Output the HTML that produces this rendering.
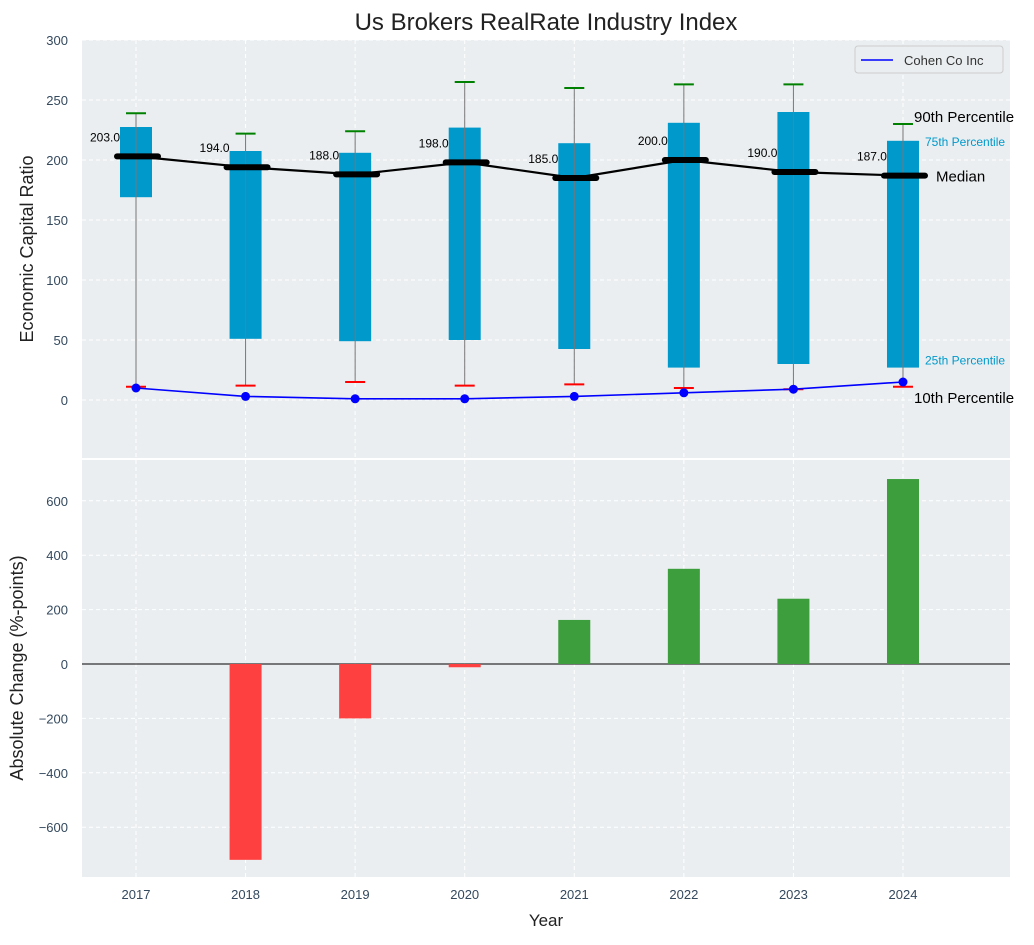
<!DOCTYPE html>
<html><head><meta charset="utf-8"><style>
body{margin:0;background:#fff;font-family:"Liberation Sans",Arial,sans-serif}
svg text{font-family:"Liberation Sans",Arial,sans-serif}
</style></head><body>
<svg id="c" width="1034" height="940" xmlns="http://www.w3.org/2000/svg"></svg>
<script>
const years=['2017','2018','2019','2020','2021','2022','2023','2024'];
const p10=[11,12,15,12,13,10,9,11];
const p25=[169,51,49,50,42.5,27,30,27];
const medians=[203,194,188,198,185,200,190,187];
const p75=[227.5,207.5,206,227,214,231,240,216];
const p90=[239,222,224,265,260,263,263,230];
const cohen=[10,3,1,1,3,6,9,15];
const changes=[null,-720,-200,-12,162,350,240,680];
const topTicks=[0,50,100,150,200,250,300];
const botTicks=[-600,-400,-200,0,200,400,600];

const NS='http://www.w3.org/2000/svg';
const svg=document.getElementById('c');
function el(t,a,p){const e=document.createElementNS(NS,t);for(const k in a)e.setAttribute(k,a[k]);(p||svg).appendChild(e);return e;}
function tx(s,a){const e=el('text',a);e.textContent=s;return e;}
const L=82,R=1010;
const x=i=>136+i*109.57;
const yT=v=>400-v*1.2;
const yB=v=>664-v*0.272;
let bg=el('rect',{x:L,y:40,width:R-L,height:418,fill:'#eaeef0'});


bg=el('rect',{x:L,y:460,width:R-L,height:417,fill:'#eaeef0'});


years.forEach((y,i)=>{
 el('line',{x1:x(i),x2:x(i),y1:40,y2:458,stroke:'#fff','stroke-dasharray':'4,3','stroke-width':1});
 el('line',{x1:x(i),x2:x(i),y1:460,y2:877,stroke:'#fff','stroke-dasharray':'4,3','stroke-width':1});
 const t=tx(y,{x:x(i),y:899,'font-size':13,fill:'#34495e','text-anchor':'middle'});
 
 
});
topTicks.forEach(v=>{
 el('line',{x1:L,x2:R,y1:yT(v),y2:yT(v),stroke:'#fff','stroke-dasharray':'4,3'});
 const t=tx(String(v),{x:68,y:yT(v)+5,'font-size':13,fill:'#34495e','text-anchor':'end'});
 
 
});
botTicks.forEach(v=>{
 el('line',{x1:L,x2:R,y1:yB(v),y2:yB(v),stroke:'#fff','stroke-dasharray':'4,3'});
 const t=tx(String(v).replace('-','\u2212'),{x:68,y:yB(v)+5,'font-size':13,fill:'#34495e','text-anchor':'end'});
 
 
});
years.forEach((y,i)=>{
 const b=el('rect',{x:x(i)-16,y:yT(p75[i]),width:32,height:yT(p25[i])-yT(p75[i]),fill:'#0099cc'});
 
 
 el('line',{x1:x(i),x2:x(i),y1:yT(p10[i]),y2:yT(p90[i]),stroke:'#777','stroke-width':1});
 el('line',{x1:x(i)-10,x2:x(i)+10,y1:yT(p90[i]),y2:yT(p90[i]),stroke:'green','stroke-width':2});
 el('line',{x1:x(i)-10,x2:x(i)+10,y1:yT(p10[i]),y2:yT(p10[i]),stroke:'red','stroke-width':2});
});
let pts=medians.map((m,i)=>x(i)+','+yT(m)).join(' ');
let ml=el('polyline',{points:pts,fill:'none',stroke:'#000','stroke-width':2.2});


medians.forEach((m,i)=>{
 const mk=el('line',{x1:x(i)-19,x2:x(i)+22,y1:yT(m),y2:yT(m),stroke:'#000','stroke-width':6,'stroke-linecap':'round'});
 
 
 const t=tx(m.toFixed(1),{x:x(i)-16,y:yT(m)-15,'font-size':12,fill:'#000','text-anchor':'end'});
 
 
});
pts=cohen.map((c,i)=>x(i)+','+yT(c)).join(' ');
let cl=el('polyline',{points:pts,fill:'none',stroke:'blue','stroke-width':1.6});


cohen.forEach((c,i)=>{
 const d=el('circle',{cx:x(i),cy:yT(c),r:4.5,fill:'blue'});
 
 
});
const n=7;
[['90th Percentile',x(n)+11,yT(p90[n])-2,15,'#000'],['75th Percentile',x(n)+22,yT(p75[n])+5,12,'#0099cc'],['Median',x(n)+33,yT(medians[n])+6,15,'#000'],['25th Percentile',x(n)+22,yT(p25[n])-3,12,'#0099cc'],['10th Percentile',x(n)+11,yT(p10[n])+16,15,'#000']].forEach(a=>{
 const t=tx(a[0],{x:a[1],y:a[2],'font-size':a[3],fill:a[4]});
 
 
});
const lg=el('g',{});


el('rect',{x:855,y:46,width:148,height:27,rx:3,fill:'#eaeef0',stroke:'#ccc'},lg);
el('line',{x1:861,x2:893,y1:60,y2:60,stroke:'blue','stroke-width':1.6},lg);
const lt=tx('Cohen Co Inc',{x:904,y:65,'font-size':13,fill:'#333'});lg.appendChild(lt);
el('line',{x1:L,x2:R,y1:yB(0),y2:yB(0),stroke:'#000','stroke-width':1});
changes.forEach((v,i)=>{
 if(v===null)return;
 const b=el('rect',{x:x(i)-16,y:Math.min(yB(v),yB(0)),width:32,height:Math.abs(yB(v)-yB(0)),fill:v<0?'#ff4040':'#3c9e3c'});
 
 
});
let t=tx('Us Brokers RealRate Industry Index',{x:546,y:30,'font-size':24,fill:'#222','text-anchor':'middle'});

t=tx('Year',{x:546,y:926,'font-size':17,fill:'#222','text-anchor':'middle'});

t=tx('Economic Capital Ratio',{x:0,y:0,'font-size':18,fill:'#222','text-anchor':'middle',transform:'translate(33,249) rotate(-90)'});

t=tx('Absolute Change (%-points)',{x:0,y:0,'font-size':18,fill:'#222','text-anchor':'middle',transform:'translate(23,668) rotate(-90)'});

</script>
</body></html>
